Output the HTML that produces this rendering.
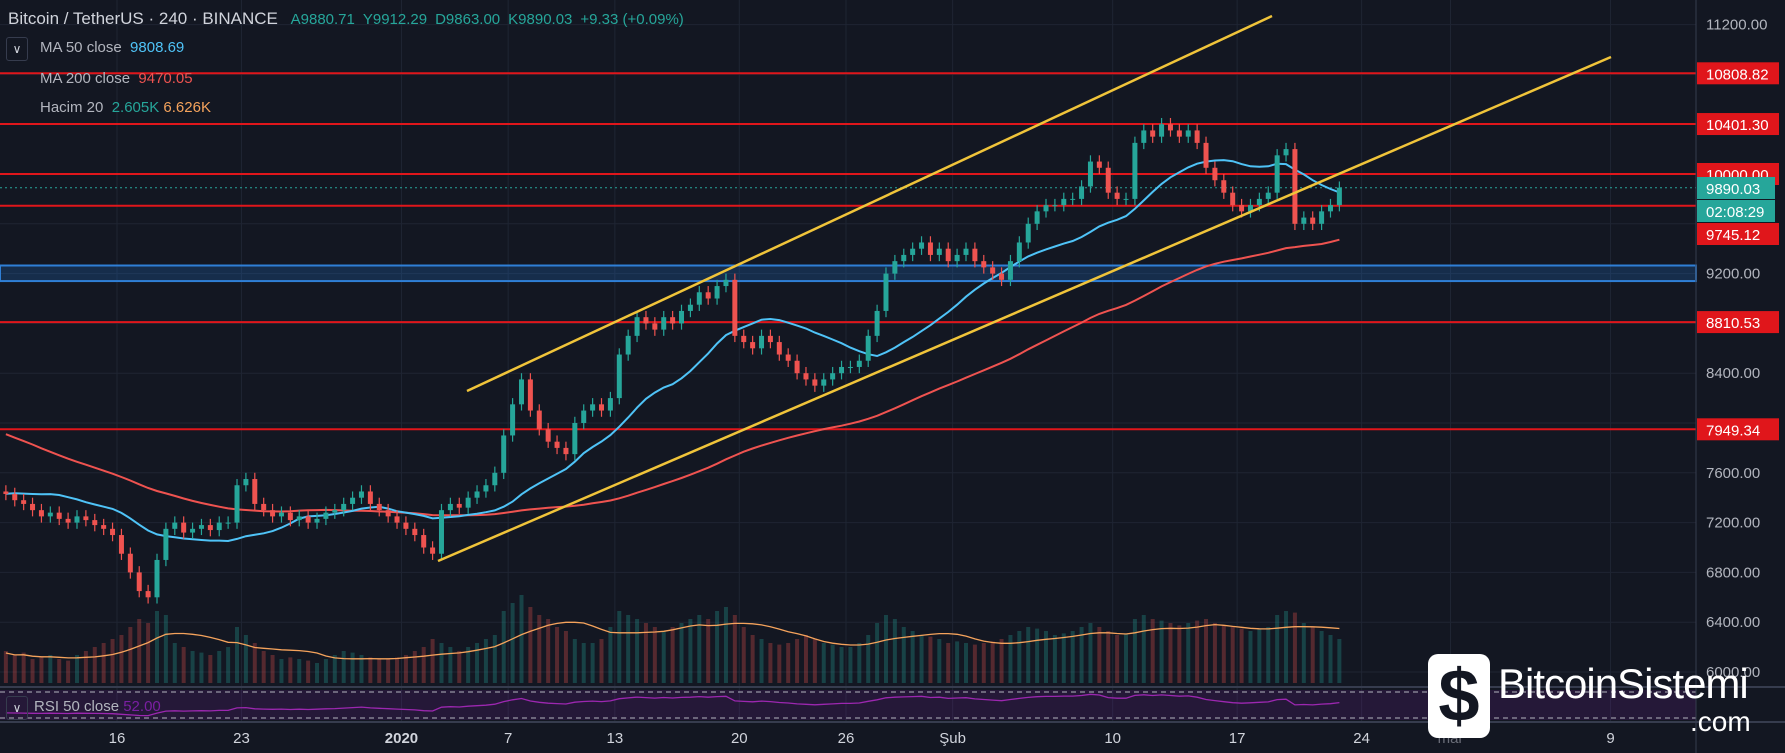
<!DOCTYPE html>
<html><head><meta charset="utf-8">
<style>
html,body{margin:0;padding:0;background:#131722;}
#wrap{position:relative;width:1785px;height:753px;overflow:hidden;background:#131722;font-family:"Liberation Sans",sans-serif;}
svg{position:absolute;left:0;top:0;}
.hdr{position:absolute;left:8px;top:9px;color:#d1d4dc;font-size:17px;white-space:nowrap;}
.hdr .v{color:#26a69a;font-size:15px;margin-left:8px;}
.leg{position:absolute;left:40px;color:#b2b5be;font-size:15px;white-space:nowrap;}
.chev{position:absolute;left:6px;top:37px;width:20px;height:22px;border:1px solid #363c4e;border-radius:3px;color:#d1d4dc;font-size:12px;text-align:center;line-height:22px;}
</style></head><body>
<div id="wrap">
<svg id="svg" width="1785" height="753"></svg>
<div class="hdr">Bitcoin / TetherUS · 240 · BINANCE <span class="v">A9880.71</span><span class="v">Y9912.29</span><span class="v">D9863.00</span><span class="v">K9890.03</span><span class="v">+9.33 (+0.09%)</span></div>
<div class="chev">&#8744;</div>
<div class="leg" style="top:39px">MA 50 close &nbsp;<span style="color:#4fc3f7">9808.69</span></div>
<div class="leg" style="top:70px">MA 200 close &nbsp;<span style="color:#ef5350">9470.05</span></div>
<div class="leg" style="top:99px">Hacim 20 &nbsp;<span style="color:#26a69a">2.605K</span> <span style="color:#f5a35c">6.626K</span></div>
<div style="position:absolute;left:6px;top:696px;width:20px;height:22px;border:1px solid #363c4e;border-radius:3px;color:#d1d4dc;font-size:12px;text-align:center;line-height:22px;">&#8744;</div>
<div class="leg" style="top:698px;left:34px">RSI 50 close <span style="color:#7b1fa2">52.00</span></div>
<div style="position:absolute;left:1428px;top:652px;width:350px;height:92px;">
  <div style="position:absolute;left:0;top:2px;width:62px;height:84px;border-radius:10px;background:#fff;color:#131722;font-size:74px;font-weight:bold;line-height:84px;text-align:center;">$</div>
  <div style="position:absolute;left:70px;top:8px;color:#fff;font-size:42px;letter-spacing:-1px;">BitcoinSistemi</div>
  <div style="position:absolute;left:262px;top:54px;color:#fff;font-size:28px;">.com</div>
</div>
</div>
<script>
const prevCloses=[9300,9250,9200,9150,9250,9200,9100,9050,8900,8800,8750,8800,8700,8750,8650,8700,8600,8500,8450,8550,8500,8450,8300,8200,8150,8100,8050,7900,7650,7600,7400,7300,7100,6900,7000,7150,7200,7400,7500,7600,7450,7500,7550,7400,7500,7400,7350,7450,7500,7400,7350,7300,7400,7350,7300,7250,7350,7500,7550,7600,7500,7450,7400,7500,7550,7500,7400];
const closes=[7430,7380,7350,7300,7250,7280,7230,7200,7250,7220,7180,7150,
7100,6950,6800,6650,6600,6900,7150,
7200,7120,7150,7180,7140,7200,7200,
7500,7550,7350,
7300,7250,7280,7220,7250,7200,7230,7280,7300,
7350,7400,7450,7350,7300,
7250,7200,7150,7100,7000,6950,
7300,7350,7320,7400,7450,7500,7600,
7900,8150,8350,
8100,7950,7850,7800,7750,
8000,8100,8150,8100,8200,
8550,8700,8850,
8800,8750,8850,8800,8900,
8950,9050,9000,9100,9150,
8700,
8650,8600,8700,8650,8550,8500,8400,
8350,8300,8350,8400,8450,8450,8500,
8700,8900,9200,9300,
9350,9400,9450,9350,9400,9300,9350,9400,9300,9250,9200,
9150,
9300,9450,9600,9700,9750,
9750,9800,9800,9900,10100,
10050,9850,9800,9800,
10250,10350,10300,10400,10350,10300,10350,10250,10050,
9950,9850,9750,9700,
9750,9800,9850,10150,
10200,9600,
9650,9600,9700,9750,9890];
const volumes=[40,35,38,30,32,35,30,28,35,40,45,50,
55,60,70,80,75,90,85,
50,45,40,38,35,40,45,
70,60,50,
40,35,30,32,30,28,25,30,35,40,38,35,32,30,
30,32,35,40,45,55,50,45,40,45,50,55,60,
90,100,110,95,85,80,70,65,
55,50,50,55,70,
90,85,80,75,70,65,70,75,
80,85,80,90,95,85,
70,60,55,50,48,50,55,60,55,50,48,45,45,50,
60,75,85,80,70,65,60,58,55,50,52,50,48,50,52,55,
60,65,70,68,65,60,62,65,70,75,70,65,60,62,
80,85,80,78,75,72,75,78,80,75,72,70,68,
65,68,70,85,90,88,75,70,65,60,55];
const priceTicks=[11200,10800,10400,10000,9600,9200,8800,8400,8000,7600,7200,6800,6400,6000];
const grayLabels=[11200,9200,8400,7600,7200,6800,6400,6000];
const levels=[10808.82,10401.30,10000,9745.12,8810.53,7949.34];
const dateLabels=["16","23","2020","7","13","20","26","Şub","10","17","24","mar","9"];
const dateDays=[0,7,16,22,28,35,41,47,56,63,70,75,84];

const S=document.getElementById('svg');const NS='http://www.w3.org/2000/svg';
function mk(t,a,parent){const e=document.createElementNS(NS,t);for(const k in a)e.setAttribute(k,a[k]);(parent||S).appendChild(e);return e;}
const PW=1696;
function py(p){return 174+(10000-p)*0.1245;}
function dx(d){return 117+d*17.78;}
function cx(i){return dx(-6.25+0.5*i);}

for(const d of dateDays){const l=mk('line',{x1:dx(d),x2:dx(d),y1:0,y2:722,stroke:'#1f2533','stroke-width':1});}
for(const p of priceTicks){const l=mk('line',{x1:0,x2:PW,y1:py(p),y2:py(p),stroke:'#1f2533','stroke-width':1});}

const band=mk('rect',{x:0,y:py(9265),width:PW,height:py(9140)-py(9265),fill:'rgba(33,110,200,0.25)',stroke:'#2f7fd6','stroke-width':2});


const vg=mk('g',{});
for(let i=0;i<closes.length;i++){const o=i?closes[i-1]:7450;const up=closes[i]>=o;const h=volumes[i]*0.8;
 const r=mk('rect',{x:cx(i)-2,y:683-h,width:4,height:h,fill:up?'rgba(38,166,154,0.3)':'rgba(239,83,80,0.3)'},vg);
 }
let vp='';
for(let i=0;i<closes.length;i++){let s=0,n=0;for(let j=Math.max(0,i-9);j<=i;j++){s+=volumes[j];n++;}vp+=(i?'L':'M')+cx(i).toFixed(1)+','+(683-s/n*0.75).toFixed(1);}
const vma=mk('path',{d:vp,fill:'none',stroke:'#f5a35c','stroke-width':1.3});

for(const p of levels){const l=mk('line',{x1:0,x2:PW,y1:py(p),y2:py(p),stroke:'#e0161b','stroke-width':2});}
const last=mk('line',{x1:0,x2:PW,y1:py(9890),y2:py(9890),stroke:'#26a69a','stroke-width':1,'stroke-dasharray':'2,3'});

const all=prevCloses.concat(closes);const off=prevCloses.length;
function maPath(n){let d='';for(let i=0;i<closes.length;i++){let s=0;const k=i+off;const m=Math.min(n,k+1);for(let j=k-m+1;j<=k;j++)s+=all[j];d+=(i?'L':'M')+cx(i).toFixed(1)+','+py(s/m).toFixed(1);}return d;}
const m200=mk('path',{d:maPath(67),fill:'none',stroke:'#ef5350','stroke-width':2});
const m50=mk('path',{d:maPath(17),fill:'none',stroke:'#4fc3f7','stroke-width':2});

for(let i=0;i<closes.length;i++){const o=i?closes[i-1]:7450;const c=closes[i];const up=c>=o;const col=up?'#26a69a':'#ef5350';
 const g=mk('g',{});
 mk('line',{x1:cx(i),x2:cx(i),y1:py(Math.max(o,c)+50),y2:py(Math.min(o,c)-50),stroke:col,'stroke-width':1.2},g);
 const top=py(Math.max(o,c));mk('rect',{x:cx(i)-2.5,y:top,width:5,height:Math.max(1,py(Math.min(o,c))-top),fill:col},g);}

const ch1=mk('line',{x1:467,y1:391,x2:1272,y2:16,stroke:'#f0c43a','stroke-width':2.5});
const ch2=mk('line',{x1:438,y1:561,x2:1611,y2:57,stroke:'#f0c43a','stroke-width':2.5});

const rp=mk('rect',{x:0,y:690,width:PW,height:30,fill:'rgba(123,31,162,0.18)'});
for(const y of [692,718]){const l=mk('line',{x1:0,x2:PW,y1:y,y2:y,stroke:'#b2b5be','stroke-width':1,'stroke-dasharray':'5,4'});}
for(const y of [687,722]){const l=mk('line',{x1:0,x2:1785,y1:y,y2:y,stroke:'#363c4e','stroke-width':2});}
let ag=0,al=0;const N=28;for(let k=1;k<off;k++){const ch=all[k]-all[k-1];if(ch>0)ag+=ch/N;else al-=ch/N;}
let rpth='';for(let i=0;i<closes.length;i++){const k=i+off;const ch=all[k]-all[k-1];ag=(ag*(N-1)+Math.max(ch,0))/N;al=(al*(N-1)+Math.max(-ch,0))/N;const r=100-100/(1+ag/(al||1));rpth+=(i?'L':'M')+cx(i).toFixed(1)+','+(705-(r-50)*0.5).toFixed(1);}
const rl=mk('path',{d:rpth,fill:'none',stroke:'#9c27b0','stroke-width':1.3});

const ax=mk('line',{x1:PW,x2:PW,y1:0,y2:753,stroke:'#363c4e','stroke-width':1});
for(const p of grayLabels){const t=mk('text',{x:1706,y:py(p)+5,fill:'#b2b5be','font-size':15,'font-family':'Liberation Sans, sans-serif'});t.textContent=p.toFixed(2);}
function box(y,txt,col,name){const g=mk('g',{});
 mk('rect',{x:1697,y:y-11,width:col=='#e0161b'?82:78,height:22,fill:col},g);
 const t=mk('text',{x:1706,y:y+6,fill:'#fff','font-size':15,'font-family':'Liberation Sans, sans-serif'},g);t.textContent=txt;}
box(py(10808.82),'10808.82','#e0161b','level-label');
box(py(10401.30),'10401.30','#e0161b','level-label');
box(py(10000),'10000.00','#e0161b','level-label');
box(234,'9745.12','#e0161b','level-label');
box(py(8810.53),'8810.53','#e0161b','level-label');
box(py(7949.34),'7949.34','#e0161b','level-label');
box(188,'9890.03','#26a69a','last-price-label');
box(211,'02:08:29','#26a69a','countdown-label');
for(let i=0;i<dateLabels.length;i++){const t=mk('text',{x:dx(dateDays[i]),y:743,fill:dateLabels[i]=='mar'?'#6a6d78':'#d1d4dc','font-size':15,'text-anchor':'middle','font-weight':dateLabels[i]=='2020'?'bold':'normal','font-family':'Liberation Sans, sans-serif'});t.textContent=dateLabels[i];}
</script>
</body></html>
